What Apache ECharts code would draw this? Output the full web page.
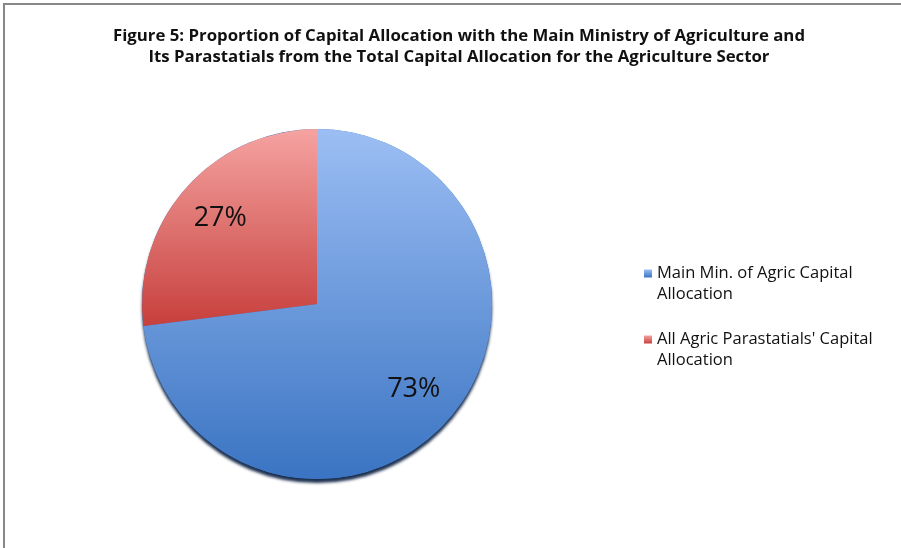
<!DOCTYPE html>
<html>
<head>
<meta charset="utf-8">
<script src="https://cdn.jsdelivr.net/npm/echarts@6/dist/echarts.min.js"></script>
<style>
  html, body { margin: 0; padding: 0; background: #ffffff; }
  #chart { width: 901px; height: 548px; }
</style>
</head>
<body>
<div id="chart"></div>
<script>
// Shares of the agriculture sector's total capital allocation (%)
const categories = [
  "Main Min. of Agric Capital Allocation",
  "All Agric Parastatials' Capital Allocation"
];
const shares = [73, 27];
const titleLines = [
  "Figure 5: Proportion of Capital Allocation with the Main Ministry of Agriculture and",
  "Its Parastatials from the Total Capital Allocation for the Agriculture Sector"
];

const FONT = "'Open Sans', Lato, sans-serif";
const CENTER = [317, 304];
const RADIUS = 175;

function grad(top, bottom) {
  return new echarts.graphic.LinearGradient(0, 0, 0, 1, [
    { offset: 0, color: top },
    { offset: 1, color: bottom }
  ]);
}
const fills = [grad('#9cbef4', '#3a74c2'), grad('#f5a3a1', '#c7403d')];

const chart = echarts.init(document.getElementById('chart'), null, { renderer: 'canvas' });

chart.setOption({
  backgroundColor: '#ffffff',
  animation: false,
  title: {
    text: titleLines.join('\n'),
    left: 459,
    top: 26,
    padding: 0,
    textAlign: 'center',
    textStyle: {
      fontFamily: FONT,
      fontSize: 16.8,
      fontWeight: 'bold',
      color: '#111111',
      lineHeight: 21
    }
  },
  graphic: [
    { type: 'line', shape: { x1: 4, y1: 4, x2: 901, y2: 4 }, style: { stroke: '#878787', lineWidth: 2 } },
    { type: 'line', shape: { x1: 4, y1: 3, x2: 4, y2: 548 }, style: { stroke: '#878787', lineWidth: 2 } }
  ],
  legend: {
    orient: 'vertical',
    left: 644,
    top: 242,
    padding: 0,
    icon: 'rect',
    itemWidth: 8,
    itemHeight: 8,
    itemGap: 3,
    data: categories,
    selectedMode: false,
    formatter: function (name) {
      return '\n' + name.replace(/ Allocation$/, '\nAllocation');
    },
    textStyle: {
      fontFamily: FONT,
      fontSize: 16.5,
      color: '#111111',
      lineHeight: 21
    }
  },
  series: [
    {
      // drop shadow under the whole disc
      type: 'pie',
      silent: true,
      z: 1,
      center: CENTER,
      radius: RADIUS,
      label: { show: false },
      labelLine: { show: false },
      itemStyle: {
        color: '#3a74c2',
        shadowBlur: 3,
        shadowOffsetY: 4,
        shadowColor: 'rgba(18, 38, 72, 0.95)'
      },
      data: [{ value: 1, name: '' }]
    },
    {
      type: 'pie',
      z: 2,
      center: CENTER,
      radius: RADIUS,
      startAngle: 90,
      clockwise: true,
      silent: true,
      label: { show: false },
      labelLine: { show: false },
      itemStyle: { borderWidth: 0 },
      data: categories.map((name, i) => ({
        name: name,
        value: shares[i],
        itemStyle: { color: fills[i] }
      })),
      color: ['#4f81bd', '#c0504d']
    },
    {
      // transparent ring that carries the percentage labels
      type: 'pie',
      z: 3,
      center: CENTER,
      radius: [RADIUS * 0.44, RADIUS],
      startAngle: 90,
      clockwise: true,
      silent: true,
      labelLine: { show: false },
      itemStyle: { color: 'rgba(0,0,0,0)', borderWidth: 0 },
      label: {
        show: true,
        position: 'inside',
        formatter: '{c}%',
        fontFamily: FONT,
        fontSize: 27,
        color: '#111111'
      },
      data: categories.map((name, i) => ({ name: name + ' ', value: shares[i] }))
    }
  ]
});
</script>
</body>
</html>
